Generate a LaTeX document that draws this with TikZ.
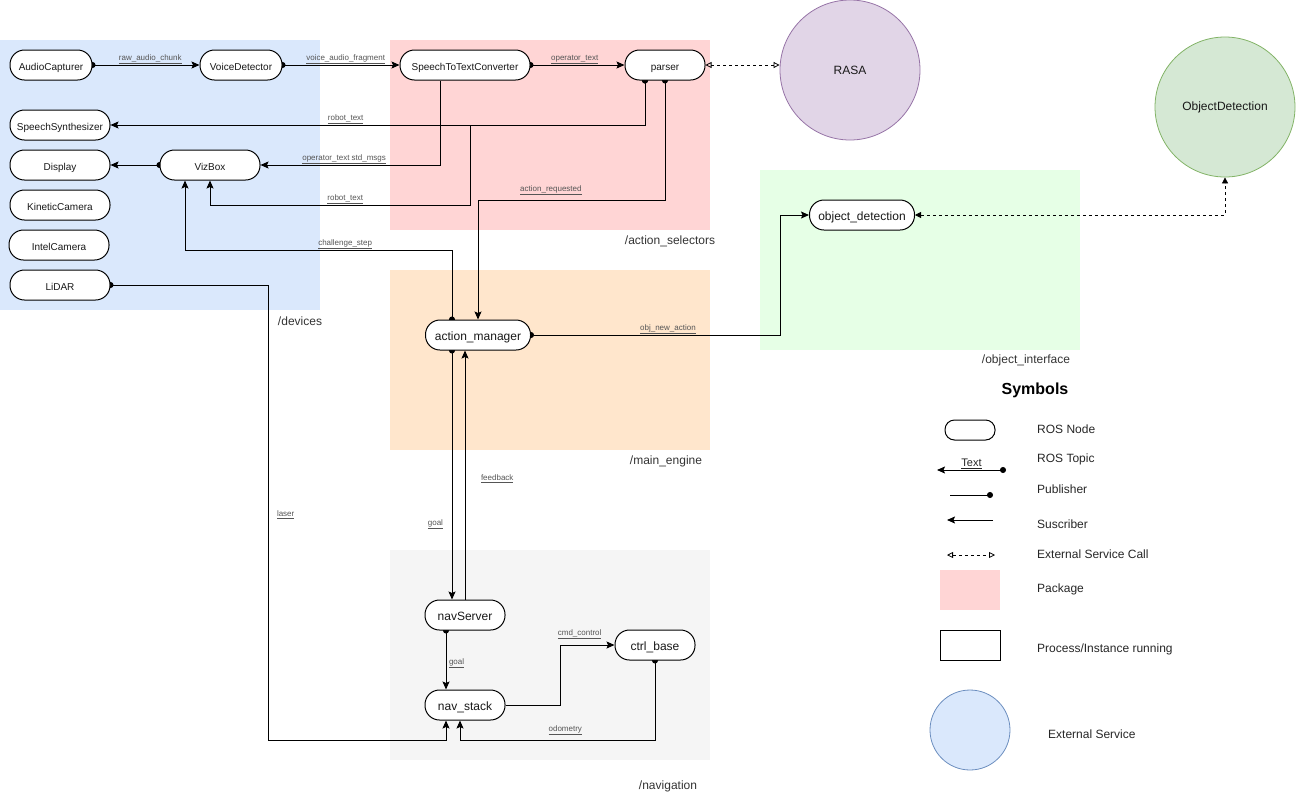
\documentclass[tikz,border=0pt]{standalone}
\usepackage{fontspec}
\setmainfont{Liberation Sans}
\usetikzlibrary{arrows.meta}
\definecolor{devblue}{HTML}{DAE8FC}
\definecolor{selpink}{HTML}{FFD5D5}
\definecolor{engorange}{HTML}{FFE6CC}
\definecolor{objgreen}{HTML}{E6FFE6}
\definecolor{navgray}{HTML}{F5F5F5}
\definecolor{rasafill}{HTML}{E1D5E7}
\definecolor{rasaline}{HTML}{9673A6}
\definecolor{odfill}{HTML}{D5E8D4}
\definecolor{odline}{HTML}{82B366}
\definecolor{extline}{HTML}{6C8EBF}
\definecolor{lblgray}{HTML}{555555}
\definecolor{pkgtext}{HTML}{333333}
\pgfdeclarelayer{bg}
\pgfdeclarelayer{edgelayer}
\pgfsetlayers{bg,edgelayer,main}
\tikzset{
  rosnode/.style={draw=black, line width=1pt, fill=white, rounded corners=14.5pt,
    minimum height=30pt, inner sep=0pt, text height=10.6pt, text depth=0pt,
    text=black!90, font=\fontsize{10}{12}\selectfont},
  bignode/.style={rosnode, font=\fontsize{12}{14}\selectfont},
  extsvc/.style={circle, line width=0.8pt, minimum size=140pt, inner sep=0pt,
    text=black!90, font=\fontsize{12}{14}\selectfont},
  pkglbl/.style={font=\fontsize{12}{14}\selectfont, text=pkgtext},
  wire/.style={line width=1pt, draw=black},
  >={Stealth[length=8pt,width=7pt,inset=1.5pt]},
  pub/.style={wire, {Circle[length=6pt]}->, shorten <=-3pt},
  sub/.style={wire, ->},
  svc/.style={line width=0.8pt, dash pattern=on 3pt off 3pt,
    {Triangle[open,length=6pt,width=6pt]}-{Triangle[open,length=6pt,width=6pt]}},
  svcfill/.style={line width=0.8pt, dash pattern=on 3pt off 3pt,
    {Triangle[length=6pt,width=6pt]}-{Triangle[length=6pt,width=6pt]}},
  lbl/.style={font=\fontsize{8}{9}\selectfont, text=lblgray, inner sep=0.5pt, above},
  legtxt/.style={font=\fontsize{12}{14}\selectfont, text=black!85, anchor=west, inner sep=0pt},
}
\begin{document}
\begin{tikzpicture}[x=1pt,y=-1pt]
\useasboundingbox (0,0) rectangle (1296,796);
% packages
\begin{pgfonlayer}{bg}
\fill[devblue] (0,40) rectangle (320,310);
\fill[selpink] (390,40) rectangle (710,230);
\fill[engorange] (390,270) rectangle (710,450);
\fill[objgreen] (760,170) rectangle (1080,350);
\fill[navgray] (390,550) rectangle (710,760);
\end{pgfonlayer}
\node[pkglbl] (ldev) at (300,321) {/devices};
\node[pkglbl] (lsel) at (670,241) {/action\_selectors};
\node[pkglbl] (leng) at (666,461) {/main\_engine};
\node[pkglbl] (lobj) at (1026,360) {/object\_interface};
\node[pkglbl] (lnav) at (668,786) {/navigation};
% nodes
\node[rosnode, minimum width=82pt] (ac) at (51,65) {AudioCapturer};
\node[rosnode, minimum width=82pt] (vd) at (241,65) {VoiceDetector};
\node[rosnode, minimum width=100pt] (ss) at (60,125) {SpeechSynthesizer};
\node[rosnode, minimum width=100pt] (disp) at (60,165) {Display};
\node[rosnode, minimum width=100pt] (viz) at (210,165) {VizBox};
\node[rosnode, minimum width=100pt] (kin) at (60,205) {KineticCamera};
\node[rosnode, minimum width=100pt] (intel) at (59,245) {IntelCamera};
\node[rosnode, minimum width=100pt] (lidar) at (60,285) {LiDAR};
\node[rosnode, minimum width=130pt] (stt) at (465,65) {SpeechToTextConverter};
\node[rosnode, minimum width=80pt] (parser) at (665,65) {parser};
\node[bignode, minimum width=105pt] (am) at (478,335) {action\_manager};
\node[bignode, minimum width=105pt] (od) at (862,215) {object\_detection};
\node[bignode, minimum width=80pt] (ns) at (465,615) {navServer};
\node[bignode, minimum width=80pt] (nst) at (465,705) {nav\_stack};
\node[bignode, minimum width=80pt] (cb) at (655,645) {ctrl\_base};
\node[extsvc, draw=rasaline, fill=rasafill] (rasa) at (850,70) {RASA};
\node[extsvc, draw=odline, fill=odfill] (objdet) at (1225,107) {ObjectDetection};
% connectors
\begin{pgfonlayer}{edgelayer}
\draw[pub] (ac.east) -- node[lbl,pos=0.54]{\underline{raw\_audio\_chunk}} (vd.west);
\draw[pub] (vd.east) -- node[lbl,pos=0.54]{\underline{voice\_audio\_fragment}} (stt.west);
\draw[pub] (stt.east) -- node[lbl,pos=0.47]{\underline{operator\_text}} (parser.west);
\draw[svc] (parser.east) -- (parser.east -| rasa.west);
\draw[pub] ([xshift=-20pt]parser.south) |- node[lbl,pos=0.78]{\underline{robot\_text}} (ss.east);
\draw[sub] ([xshift=-25pt]stt.south) |- node[lbl,pos=0.767]{\underline{operator\_text std\_msgs}} (viz.east);
\draw[pub] ([xshift=-20pt]parser.south) -- (645,125) -- (470,125) -- (470,205)
  -- node[lbl,pos=0.48]{\underline{robot\_text}} (210,205) -- (viz.south);
\draw[pub] (parser.south) -- (665,200)
  -- node[lbl,pos=0.61,yshift=4pt]{\underline{action\_requested}} (478,200) -- (am.north);
\draw[pub] ([xshift=-26pt]am.north) -- (452,250)
  -- node[lbl,pos=0.40]{\underline{challenge\_step}} (185,250) -- ([xshift=-25pt]viz.south);
\draw[pub] (lidar.east) -- (268,285)
  -- node[lbl,pos=0.515,anchor=south west,xshift=8pt]{\underline{laser}} (268,740)
  -- (446,740) -- ([xshift=-19pt]nst.south);
\draw[pub] (am.east) -- node[lbl,pos=0.55]{\underline{obj\_new\_action}} (780,335) |- (od.west);
\draw[svcfill] (od.east) -| (objdet.south);
\draw[pub] ([xshift=-26pt]am.south)
  -- node[lbl,pos=0.72,anchor=south east,xshift=-8pt]{\underline{goal}} ([xshift=-13pt]ns.north);
\draw[sub] (ns.north)
  -- node[lbl,pos=0.464,anchor=south west,xshift=15pt]{\underline{feedback}} ([xshift=-13pt]am.south);
\draw[pub] ([xshift=-19pt]ns.south)
  -- node[lbl,pos=0.65,anchor=south west,xshift=2pt]{\underline{goal}} ([xshift=-19pt]nst.north);
\draw[sub] (nst.east) -- (560,705) |- node[lbl,pos=0.68,yshift=5pt]{\underline{cmd\_control}} (cb.west);
\draw[pub] (cb.south) -- (655,740)
  -- node[lbl,pos=0.46,yshift=4pt]{\underline{odometry}} (460,740) -- ([xshift=-5pt]nst.south);
\draw[pub] (viz.west) -- (disp.east);
\end{pgfonlayer}
% legend
\node[font=\bfseries\fontsize{16}{19}\selectfont] (symt) at (1035,390) {Symbols};
\node[draw, line width=1pt, rounded corners=9.5pt, minimum width=50pt, minimum height=20pt, inner sep=0pt] (legnode) at (970,430) {};
\coordinate (topL) at (937,470);
\coordinate (topR) at (1006,470);
\draw[line width=1pt, {Stealth[length=8pt,width=7pt,inset=1.5pt]}-{Circle[length=6pt]}] (topL)
  -- node[above, inner sep=1pt, font=\fontsize{11}{13}\selectfont, text=black!85]{\underline{Text}} (topR);
\coordinate (pubL) at (950,495);
\coordinate (pubR) at (993,495);
\draw[line width=1pt, -{Circle[length=6pt]}] (pubL) -- (pubR);
\coordinate (subL) at (947,520);
\coordinate (subR) at (993,520);
\draw[line width=1pt, ->] (subR) -- (subL);
\coordinate (svcL) at (947,555);
\coordinate (svcR) at (995,555);
\draw[svc] (svcL) -- (svcR);
\node[fill=selpink, minimum width=60pt, minimum height=40pt, inner sep=0pt] (legpkg) at (970,590) {};
\node[draw, line width=1pt, minimum width=60pt, minimum height=30pt, inner sep=0pt] (legproc) at (970,645) {};
\node[circle, draw=extline, line width=0.8pt, fill=devblue, minimum size=80pt, inner sep=0pt] (legext) at (970,730) {};
\node[legtxt] (t1) at (1037,429) {ROS Node};
\node[legtxt] (t2) at (1037,459) {ROS Topic};
\node[legtxt] (t3) at (1037,489) {Publisher};
\node[legtxt] (t4) at (1037,524) {Suscriber};
\node[legtxt] (t5) at (1037,554) {External Service Call};
\node[legtxt] (t6) at (1037,589) {Package};
\node[legtxt] (t7) at (1037,649) {Process/Instance running};
\node[legtxt] (t8) at (1048,734) {External Service};
\end{tikzpicture}
\end{document}
